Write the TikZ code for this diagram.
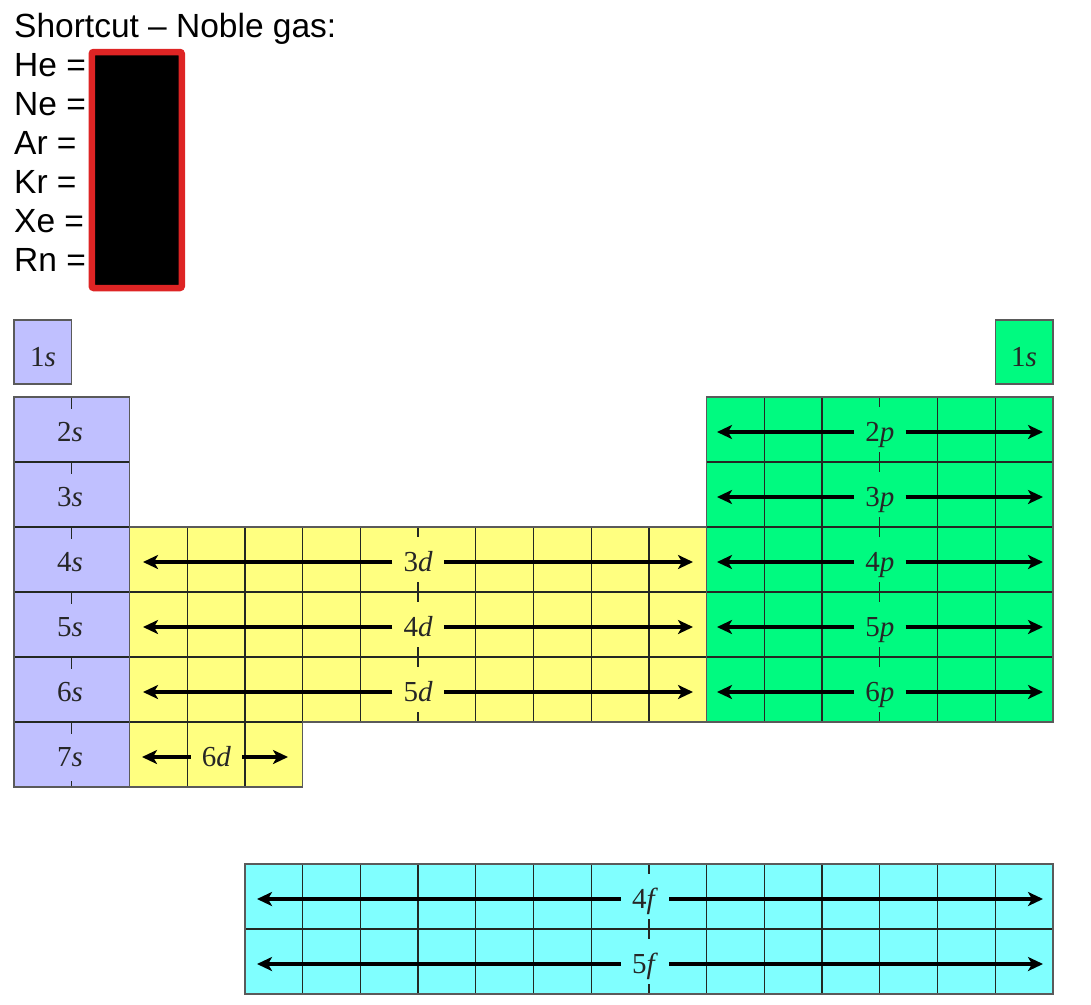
\documentclass[tikz,border=0pt]{standalone}
\usepackage{fontspec}
\setmainfont{Liberation Serif}
\newfontfamily\hdrfont{Liberation Sans}
\usetikzlibrary{arrows.meta}

\definecolor{sblk}{RGB}{192,192,255}
\definecolor{dblk}{RGB}{255,255,128}
\definecolor{pblk}{RGB}{0,250,128}
\definecolor{fblk}{RGB}{128,255,255}
\definecolor{gridc}{RGB}{35,40,35}
\definecolor{edgec}{RGB}{90,90,90}
\definecolor{maskred}{RGB}{222,36,36}

% name, label, centre x, row top, left end, right end
\newcommand\orbrow[6]{%
  \node[orblabel] (#1) at (#3,#4+44) {#2};
  \coordinate (#1L) at (#5,#4+35);
  \coordinate (#1R) at (#6,#4+35);
  \draw[orbarrow] ([xshift=-11pt]#1.west |- #1L) -- (#1L);
  \draw[orbarrow] ([xshift=11pt]#1.east |- #1R) -- (#1R);
}
\newcommand\orbtxt[2]{#1\textit{#2}}

\begin{document}
\begin{tikzpicture}[x=1pt,y=-1pt,
  gridline/.style={draw=gridc, line width=1.3pt},
  edgeline/.style={draw=edgec, line width=1.4pt},
  orbarrow/.style={line width=4pt, -{Stealth[length=15pt,width=14pt,inset=4pt]}},
  orblabel/.style={font=\fontsize{29}{29}\selectfont, anchor=base, inner sep=0pt, text=black!85},
  hdrtext/.style={font=\hdrfont\fontsize{33.5}{33.5}\selectfont, anchor=base west, inner sep=0pt}]
\useasboundingbox (0,0) rectangle (1091,1004);

% ---------- header ----------
\node[hdrtext] (title) at (14,37) {Shortcut – Noble gas:};
\foreach \el [count=\i] in {He,Ne,Ar,Kr,Xe,Rn}
  \node[hdrtext] (g\i) at (14,37+39*\i) {\el\ =};
\node[draw=maskred, fill=black, line width=6.5pt, rounded corners=2pt,
      minimum width=90pt, minimum height=236pt, inner sep=0pt] (mask) at (136.75,170) {};

% ---------- fills ----------
\fill[sblk] (14,320) rectangle (71.72,384);
\fill[sblk] (14,397) rectangle (129.44,787);
\fill[dblk] (129.44,527) rectangle (706.64,722);
\fill[dblk] (129.44,722) rectangle (302.6,787);
\fill[pblk] (706.64,397) rectangle (1052.96,722);
\fill[pblk] (995.24,320) rectangle (1052.96,384);
\fill[fblk] (244.88,864) rectangle (1052.96,994);

% ---------- grid lines ----------
% s block
\foreach \y in {462,527,592,657,722}
  \draw[gridline] (14,\y) -- (129.44,\y);
\foreach \y in {397,462,527,592,657,722}
  \draw[gridline] (71.72,\y) -- (71.72,\y+12);
\draw[gridline] (71.72,787) -- (71.72,781);
% d block
\foreach \c in {3,4,5,6,8,9,10,11}
  \draw[gridline] ({14+\c*57.72},527) -- ({14+\c*57.72},722);
\foreach \c in {3,4}
  \draw[gridline] ({14+\c*57.72},722) -- ({14+\c*57.72},787);
\foreach \y in {592,657,722}
  \draw[gridline] (129.44,\y) -- (706.64,\y);
\draw[gridline] (418.04,527) -- (418.04,537);
\foreach \y in {592,657}
  \draw[gridline] (418.04,\y-10) -- (418.04,\y+10);
\draw[gridline] (418.04,722) -- (418.04,712);
\draw[gridline] (129.44,527) -- (129.44,787);
\draw[gridline] (706.64,527) -- (706.64,722);
% p block
\foreach \c in {13,14,16,17}
  \draw[gridline] ({14+\c*57.72},397) -- ({14+\c*57.72},722);
\foreach \y in {462,527,592,657}
  \draw[gridline] (706.64,\y) -- (1052.96,\y);
\draw[gridline] (879.8,397) -- (879.8,407);
\foreach \y in {462,527,592,657}
  \draw[gridline] (879.8,\y-10) -- (879.8,\y+10);
\draw[gridline] (879.8,722) -- (879.8,712);
% f block
\foreach \c in {5,6,7,8,9,10,12,13,14,15,16,17}
  \draw[gridline] ({14+\c*57.72},864) -- ({14+\c*57.72},994);
\draw[gridline] (244.88,929) -- (1052.96,929);
\draw[gridline] (648.92,864) -- (648.92,874);
\draw[gridline] (648.92,919) -- (648.92,939);
\draw[gridline] (648.92,994) -- (648.92,984);

% ---------- outer edges ----------
\draw[edgeline] (14,320) rectangle (71.72,384);
\draw[edgeline] (14,397) rectangle (129.44,787);
\draw[edgeline] (129.44,527) -- (706.64,527) -- (706.64,722) -- (302.6,722)
  -- (302.6,787) -- (129.44,787);
\draw[edgeline] (706.64,397) rectangle (1052.96,722);
\draw[edgeline] (995.24,320) rectangle (1052.96,384);
\draw[edgeline] (244.88,864) rectangle (1052.96,994);

% ---------- labels ----------
\node[orblabel] (s1a) at (42.9,366) {\orbtxt{1}{s}};
\node[orblabel] (s1b) at (1024.1,366) {\orbtxt{1}{s}};
\foreach \n in {2,...,7}
  \node[orblabel] (s\n) at (70,397+65*\n-130+44) {\orbtxt{\n}{s}};

\orbrow{d3}{\orbtxt{3}{d}}{418.04}{527}{143}{693}
\orbrow{d4}{\orbtxt{4}{d}}{418.04}{592}{143}{693}
\orbrow{d5}{\orbtxt{5}{d}}{418.04}{657}{143}{693}
\orbrow{d6}{\orbtxt{6}{d}}{216.3}{722}{142}{288}

\orbrow{p2}{\orbtxt{2}{p}}{879.8}{397}{717}{1043}
\orbrow{p3}{\orbtxt{3}{p}}{879.8}{462}{717}{1043}
\orbrow{p4}{\orbtxt{4}{p}}{879.8}{527}{717}{1043}
\orbrow{p5}{\orbtxt{5}{p}}{879.8}{592}{717}{1043}
\orbrow{p6}{\orbtxt{6}{p}}{879.8}{657}{717}{1043}

\orbrow{f4}{\orbtxt{4}{f}}{645}{864}{257}{1043}
\orbrow{f5}{\orbtxt{5}{f}}{645}{929}{257}{1043}
\end{tikzpicture}
\end{document}
